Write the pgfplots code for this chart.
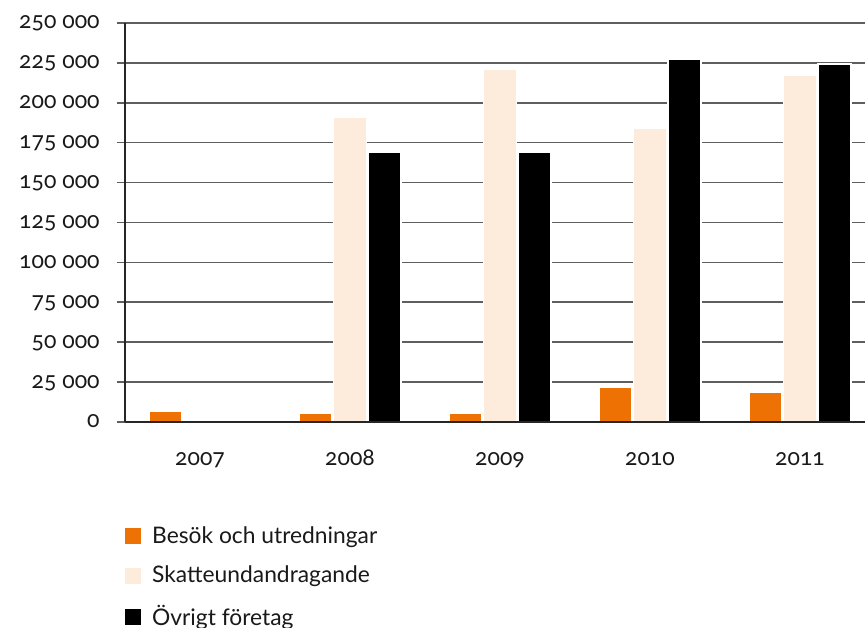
\documentclass[border=0pt]{standalone}
\usepackage{pgfplots}
\pgfplotsset{compat=1.18}
\usepackage{fontspec}
\setmainfont{Lato}[Numbers=OldStyle]
\definecolor{cOrange}{HTML}{EE7203}
\definecolor{cPeach}{HTML}{FDEBDC}
\definecolor{cGrid}{HTML}{5E5E5E}
\begin{document}
\begin{tikzpicture}
\begin{axis}[
  name=ax,
  scale only axis,
  width=370pt, height=199.5pt,
  xmin=-0.5, xmax=4.4333,
  ymin=0, ymax=250000,
  ytick={0,25000,...,250000},
  xtick={0,1,2,3,4},
  xticklabels={2007,2008,2009,2010,2011},
  axis x line*=bottom, axis y line*=left,
  axis line style={black!85, line width=0.6pt},
  ymajorgrids,
  grid style={cGrid, line width=0.8pt},
  major tick length=4pt,
  tick align=outside,
  ytick style={cGrid, line width=0.8pt},
  xtick style={draw=none},
  /pgf/number format/assume math mode=true,
  /pgf/number format/.cd, fixed, precision=0, 1000 sep={\ },
  /pgfplots/.cd,
  scaled y ticks=false,
  tick label style={font=\fontsize{11.5pt}{13pt}\selectfont, text=black!90},
  yticklabel style={anchor=base east, inner sep=0pt, xshift=-8.5pt, yshift=-3pt},
  xticklabel style={anchor=base, inner sep=0pt, yshift=-18pt},
  ybar=0.75pt, bar width=16.5pt,
  every axis plot/.append style={draw=white, line width=0.75pt},
  legend cell align=left,
  legend style={draw=none, fill=none, inner sep=0pt, at={(rel axis cs:0,0)}, anchor=north west,
    xshift=0pt, yshift=-52pt, row sep=9.75pt,
    font=\fontsize{11.4pt}{13pt}\selectfont,
    nodes={inner sep=0pt, text=black!90},
    /tikz/every odd column/.append style={column sep=5.4pt}},
  legend image code/.code={\fill[#1,draw=none] (0pt,-4pt) rectangle (8pt,4pt);},
]
\addplot[fill=cOrange] coordinates {(0,6700) (1,5300) (2,5300) (3,21900) (4,18800)};
\addplot[fill=cPeach] coordinates {(1,190700) (2,220800) (3,184000) (4,217400)};
\addplot[fill=black] coordinates {(1,168800) (2,168800) (3,227500) (4,224400)};
\legend{Besök och utredningar, Skatteundandragande, Övrigt företag}
\end{axis}
\draw[black!85, line width=0.6pt] (ax.south west) -- (ax.south east);
\pgfresetboundingbox
\path[use as bounding box] ([xshift=-62.5pt,yshift=-103pt]ax.south west) rectangle ([yshift=11.5pt]ax.north east);
\end{tikzpicture}
\end{document}
